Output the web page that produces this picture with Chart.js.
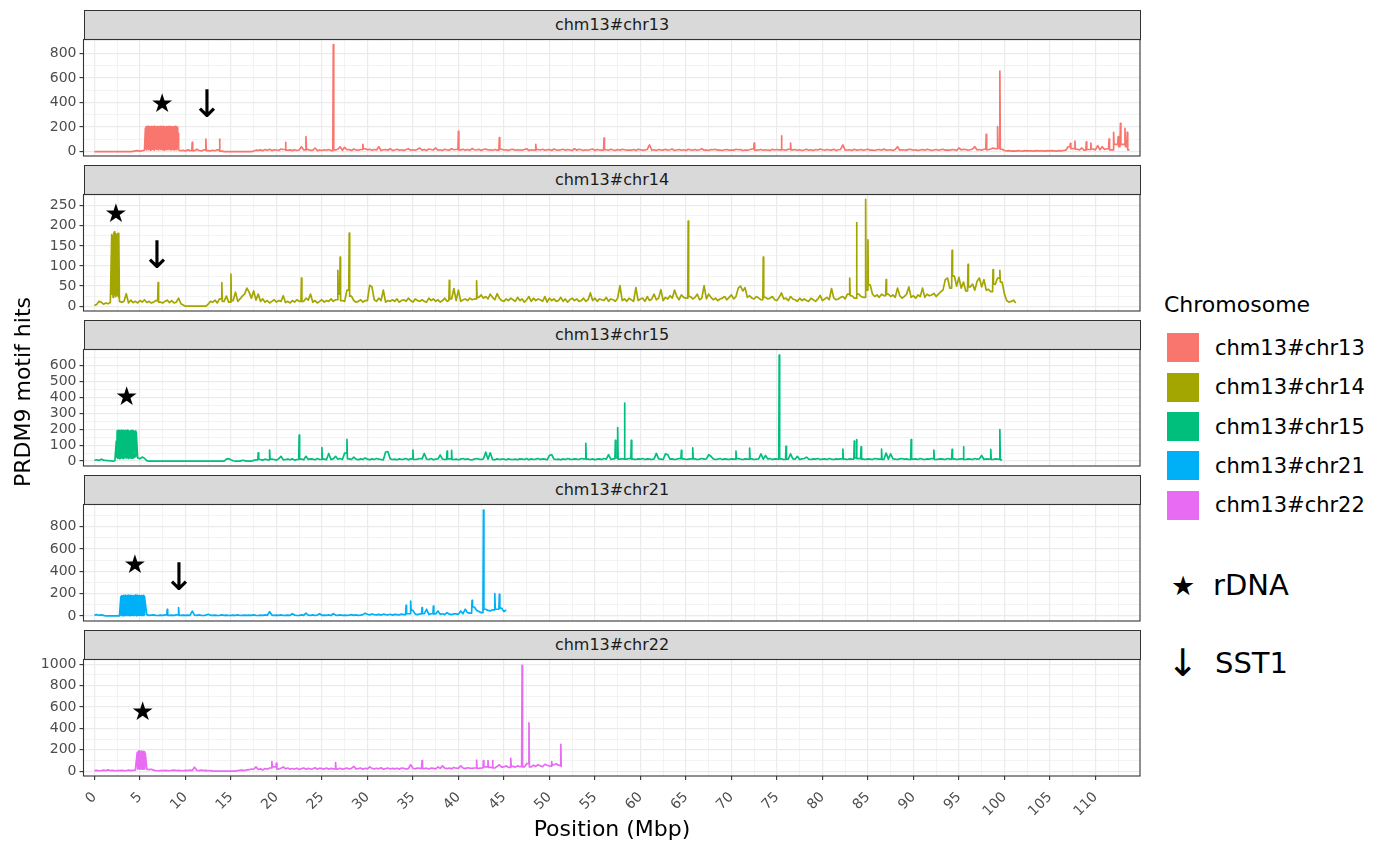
<!DOCTYPE html>
<html><head><meta charset="utf-8">
<script src="https://cdn.jsdelivr.net/npm/chart.js@4.4.1/dist/chart.umd.min.js"></script>
<style>
body{margin:0;background:#fff;}
#fig{position:relative;width:1384px;height:847px;overflow:hidden;font-family:"DejaVu Sans",sans-serif;background:#fff;}
.strip{position:absolute;left:83.5px;width:1057px;height:30px;box-sizing:border-box;border:1px solid #333;background:#d9d9d9;color:#1a1a1a;font-size:16px;line-height:28px;text-align:center;}
.pc{position:absolute;left:0;}
.txt{position:absolute;white-space:nowrap;color:#000;}
.key{position:absolute;left:1167px;width:32px;height:29px;}
</style>
</head><body>
<div id="fig"></div>
<script>
// ---------------- data ----------------
const categories = ['chm13#chr13','chm13#chr14','chm13#chr15','chm13#chr21','chm13#chr22'];
const binStep = 0.25;   // Mbp between values in the *Hits arrays
const rdnaStep = 0.05;  // Mbp between values in the *Rdna arrays
const peakHalf = 0.05;  // Mbp between a peak value and its side values in the *Peaks arrays

const chr13Hits = [
0,0,0,0, 0,0,0,0, 0,0,0,0, 0,0,0,0, 0,3,6,9, 4,8,12,198, 22,205,18,201, 26,207,15,199, 24,204,19,202, 20,150,8,12,
6,15,9,76, 8,20,10,6, 14,103,9,7, 12,8,15,103, 4,0,0,0, 0,0,0,0, 0,0,0,0, 0,0,5,12, 10,15,8,18, 12,20,9,16,
14,10,22,18, 75,12,15,9, 16,10,14,40, 14,122,18,10, 12,30,9,14, 10,16,12,18, 9,870,14,20, 40,12,35,16, 18,10,22,14, 12,18,60,24,
15,20,12,18, 14,40,10,16, 18,12,25,10, 14,20,12,16, 10,18,24,12, 16,12,20,30, 12,18,10,22, 18,14,30,12, 16,10,20,14, 12,24,16,18,
165,14,20,12, 18,12,25,16, 14,20,10,18, 22,14,16,12, 18,12,115,20, 14,16,10,18, 20,12,16,14, 12,18,24,10, 16,12,60,18, 14,20,12,16,
18,10,22,14, 12,16,20,12, 18,14,10,24, 12,20,16,10, 16,12,18,22, 10,18,14,12, 110,16,12,20, 14,10,18,12, 20,16,12,14, 12,18,10,20,
16,12,14,18, 55,12,16,10, 18,14,12,20, 12,16,22,10, 14,18,12,16, 10,20,14,12, 18,12,16,24, 12,14,10,18, 16,20,12,14, 10,16,18,12,
14,12,20,16, 18,10,14,12, 16,22,70,12, 14,18,12,16, 12,10,20,14, 18,14,128,16, 12,20,70,14, 18,12,16,10, 14,20,12,16, 10,18,14,22,
16,12,18,14, 12,20,10,16, 18,55,12,14, 16,10,20,12, 14,18,12,16, 20,12,14,10, 16,18,12,22, 12,14,16,10, 18,40,12,16, 14,12,20,18,
12,16,10,14, 18,12,20,16, 10,14,18,12, 16,20,12,14, 12,18,16,10, 30,14,20,18, 12,16,22,41, 14,18,12,20, 141,16,22,30, 24,203,656,20,
10,6,8,5, 7,5,9,6, 5,8,6,7, 6,5,8,6, 7,6,5,8, 6,9,7,5, 8,6,10,12, 40,68,25,87, 20,15,30,12, 81,18,70,22,
14,50,16,40, 18,24,103,15, 158,60,122,231, 60,190,158,15
];
const chr13RdnaStart = 5.6;
const chr13Rdna = [
190,22,205,15,200,28,207,18,198,25, 204,12,201,30,206,20,199,16,203,24,
208,14,200,27,202,19,205,22,197,15, 204,26,201,18,206,21,203,17,199,25,
207,13,202,29,198,20,205,16,200,23, 204,19,196,27,206,14,201,22,203,18,
199,26,205,15,200,24,207,20,202,17, 198,150,148,20,12
];
// [position, left side, peak, right side]
const chr13Peaks = [
[10.75,10,76,8],[12.25,14,103,9],[13.75,15,103,4],[21.0,18,75,12],[23.25,14,122,18],[26.25,9,870,14],[29.5,18,60,24],
[40.0,18,165,14],[44.5,12,115,20],[48.5,12,60,18],[56.0,12,110,16],[72.5,22,70,12],[75.5,14,128,16],[76.5,20,70,14],
[98.0,20,141,16],[99.25,24,203,30],[99.5,30,656,20],[107.25,40,68,25],[107.75,25,87,20],[109.0,12,81,18],[109.5,18,70,22],
[111.5,24,103,15],[112.0,15,158,60],[112.5,60,122,40],[112.75,40,231,60],[113.25,60,190,40],[113.5,40,158,15]
];

const chr14Hits = [
2,4,12,10, 5,8,6,9, 0,0,0,12, 10,12,31,8, 15,9,12,8, 14,10,16,9, 12,8,10,14, 59,10,8,12, 15,9,14,8, 10,20,6,3,
0,0,0,0, 0,0,0,0, 0,0,5,12, 10,15,8,18, 59,12,25,10, 80,14,35,12, 18,25,30,45, 35,20,38,15, 30,12,18,10, 14,8,12,16,
10,14,12,26, 9,12,8,14, 10,16,12,70, 12,20,15,30, 10,14,8,12, 16,10,14,12, 18,12,16,89, 122,14,12,40, 182,25,14,10, 12,16,10,14,
14,52,48,16, 12,20,14,40, 10,14,12,16, 12,18,10,14, 16,12,20,14, 10,18,14,12, 16,12,10,20, 14,18,12,16, 10,14,20,12, 64,18,44,14,
40,12,16,18, 14,20,16,18, 63,22,28,20, 24,18,30,22, 16,31,20,14, 12,18,14,20, 16,12,22,14, 18,10,16,24, 12,20,14,18, 16,12,24,10,
20,14,18,12, 14,22,12,18, 10,16,20,14, 18,12,14,20, 12,16,33,14, 20,12,18,16, 14,22,12,18, 16,12,20,51, 14,18,12,20, 16,12,46,14,
18,20,12,24, 14,18,30,16, 20,41,14,22, 18,26,20,40, 24,16,28,22, 20,212,24,18, 22,30,16,20, 51,18,30,22, 16,20,14,18, 20,24,16,22,
28,18,24,45, 50,38,46,22, 26,20,18,24, 20,16,122,22, 18,20,24,16, 14,22,33,18, 20,14,24,18, 16,12,20,14, 18,14,12,20, 16,12,18,27,
14,18,22,16, 44,20,16,18, 22,24,18,30, 70,26,20,208, 30,24,22,266, 165,53,30,24, 28,22,30,26, 66,30,24,28, 22,45,26,20, 24,30,48,22,
26,20,28,24, 45,22,30,26, 28,32,24,30, 36,40,66,70, 45,139,75,50, 72,45,60,38, 104,48,55,40, 62,70,48,66, 40,42,36,91, 55,70,89,60,
30,14,10,12, 15,8
];
const chr14RdnaStart = 1.9;
const chr14Rdna = [178,30,175,22,182,25,185,28,180,24,176,30,178,26,181,22,176];
const chr14Peaks = [
[7.0,14,59,10],[14.0,18,59,12],[15.0,10,80,14],[22.75,12,70,12],[26.75,16,89,30],[27.0,30,122,14],[28.0,40,182,25],
[39.0,14,64,18],[42.0,18,63,22],[65.25,20,212,24],[73.5,16,122,22],[83.0,30,70,26],[83.75,20,208,30],[84.75,22,266,40],
[85.0,40,165,53],[87.0,26,66,30],[94.25,45,139,75],[96.0,38,104,48],[98.75,36,91,55],[99.5,70,89,60]
];

const chr15Hits = [
5,8,4,12, 6,4,3,2, 0,2,0,0, 0,0,0,0, 0,0,0,20, 15,25,18,3, 0,0,0,0, 0,0,0,0, 0,0,0,0, 0,0,0,0,
0,0,0,0, 0,0,0,0, 0,0,0,0, 0,0,0,0, 0,0,12,15, 8,2,0,0, 0,5,3,0, 0,0,4,8, 52,10,6,12, 8,69,12,10,
6,14,30,8, 10,12,8,14, 6,10,163,12, 8,30,10,14, 12,8,16,10, 84,12,9,48, 10,14,30,12, 16,10,50,136, 14,10,25,12, 8,14,10,20,
12,8,14,10, 16,12,10,8, 57,60,14,10, 12,8,14,10, 12,16,8,14, 69,10,12,16, 14,48,12,10, 16,8,12,14, 38,12,10,63, 14,67,10,12,
8,12,16,10, 14,10,8,12, 16,12,10,14, 56,12,52,10, 8,14,10,12, 12,8,14,10, 10,12,8,14, 12,10,16,8, 14,10,12,16, 10,14,12,8,
36,40,12,10, 12,8,14,10, 16,12,10,14, 12,10,16,14, 111,12,10,14, 8,12,14,10, 16,12,40,10, 14,131,211,12, 14,365,12,16, 131,12,10,14,
12,16,10,14, 12,10,14,48, 14,12,10,45, 40,12,14,10, 12,16,67,14, 10,12,14,83, 14,10,12,16, 12,14,40,30, 14,10,12,16, 10,14,12,10,
14,12,63,16, 12,10,14,12, 81,14,10,12, 14,45,12,35, 12,16,10,14, 12,667,14,10, 93,12,45,14, 12,30,10,14, 16,25,12,10, 14,12,16,10,
12,14,10,16, 12,10,14,12, 14,76,12,10, 14,12,125,135, 16,90,12,10, 14,12,10,16, 14,12,76,10, 50,12,45,14, 12,10,14,16, 12,14,10,135,
12,14,10,16, 12,10,14,12, 16,69,10,12, 14,12,10,16, 12,73,14,10, 12,14,90,10, 14,12,10,16, 12,14,35,10, 14,12,73,10, 14,12,198,8
];
const chr15RdnaStart = 2.4;
const chr15Rdna = [
125,25,190,18,194,22,188,15,192,28, 186,20,195,24,190,17,193,26,189,21,
191,30,187,19,194,23,188,16,192,27, 185,22,190,18,193,25,189,20,191,24,
186,29,188,30,180
];
const chr15Peaks = [
[18.0,8,52,10],[19.25,8,69,12],[22.5,10,163,12],[25.0,10,84,12],[27.75,50,136,14],[35.0,14,69,10],[38.75,10,63,14],
[39.25,14,67,10],[54.0,14,111,12],[57.25,14,131,20],[57.5,20,211,12],[58.25,14,365,12],[59.0,16,131,12],[64.5,16,67,14],
[65.75,14,83,14],[70.5,12,63,16],[72.0,12,81,14],[75.25,12,667,14],[76.0,10,93,12],[82.25,14,76,12],[83.5,12,125,20],
[83.75,20,135,16],[84.25,16,90,12],[86.5,12,76,10],[89.75,10,135,12],[92.25,16,69,10],[94.25,12,73,14],[95.5,14,90,10],
[98.5,12,73,10],[99.5,12,198,8]
];

const chr21Hits = [
8,12,6,10, 5,0,0,0, 0,0,0,0, 0,0,0,0, 0,0,0,0, 0,0,8,12, 5,8,10,6, 4,8,6,10, 60,6,8,5, 10,74,6,8,
5,8,6,44, 8,5,10,6, 4,8,15,6, 5,8,4,6, 10,5,8,4, 6,8,5,10, 4,6,8,5, 8,5,10,6, 4,8,6,10, 5,38,8,6,
8,5,10,4, 6,8,5,20, 8,4,6,10, 5,25,8,6, 10,4,8,20, 6,8,5,10, 4,20,8,6, 10,5,8,6, 8,12,5,10, 6,8,12,25,
15,10,18,12, 10,14,8,16, 12,10,15,8, 14,12,10,16, 12,95,20,134, 50,16,12,18, 74,20,60,14, 20,89,18,45, 14,20,12,30, 16,12,20,18,
14,45,20,60, 30,25,139,80, 50,40,30,948, 60,50,45,55, 199,60,193,70, 40,55
];
const chr21RdnaStart = 2.9;
const chr21Rdna = [
170,5,182,8,178,3,185,10,180,6, 184,4,176,9,183,5,181,7,186,3,
179,8,184,6,182,10,175,4,183,7, 180,5,186,9,178,3,184,6,181,8,
179,4,185,10,177,6,183,5,180,7, 184,9,175
];
const chr21Peaks = [
[8.0,10,60,6],[9.25,10,74,6],[34.25,12,95,20],[34.75,20,134,50],[36.0,18,74,20],[37.25,20,89,18],[41.5,25,139,80],
[42.75,30,948,60],[44.0,55,199,60],[44.5,60,193,70]
];

const chr22Hits = [
5,8,4,6, 10,5,12,6, 8,4,6,5, 8,6,4,10, 5,8,10,12, 0,0,0,20, 15,18,10,6, 4,6,5,8, 6,4,8,10, 5,8,6,4,
8,5,10,6, 38,8,5,10, 6,8,4,5, 0,0,0,0, 0,0,0,0, 0,0,0,5, 8,10,6,12, 14,20,18,40, 16,22,12,25, 18,30,90,40,
75,20,28,40, 22,30,18,25, 20,28,16,24, 30,18,26,20, 22,32,18,28, 24,20,30,18, 26,22,80,20, 28,18,24,30, 20,26,45,22, 24,30,18,28,
22,40,26,20, 28,22,32,18, 24,30,20,26, 22,28,18,30, 26,20,24,60, 28,22,30,26, 100,24,28,20, 30,26,22,40, 26,50,28,24, 30,22,35,28,
26,50,30,24, 32,28,26,30, 103,26,30,100, 40,100,35,100, 30,45,60,38, 40,50,35,120, 45,38,50,42, 990,40,70,453, 40,55,45,60, 50,42,65,55,
48,90,60,70, 55,250
];
const chr22RdnaStart = 4.7;
const chr22Rdna = [175,20,180,25,190,18,185,22,178,24,188,19,182,26,186,21,180,172,165];
const chr22Peaks = [
[19.5,30,90,40],[20.0,40,75,20],[26.5,22,80,20],[36.0,26,100,24],[42.0,30,103,26],[42.75,30,100,40],[43.25,40,100,35],
[43.75,35,100,30],[45.75,35,120,45],[47.0,42,990,40],[47.75,70,453,40],[50.25,48,90,60],[51.25,55,250,40]
];

// annotation positions [Mbp, hits]
const rdnaMarks = [[7.45,380],[2.36,227],[3.54,396],[4.45,444],[5.3,541]];
const sst1Marks = [[12.4,365],[6.9,120],null,[9.3,320],null];

// axis limits and tick labels
const xMin = -1.2, xMax = 114.9;
const xTicks = [0,5,10,15,20,25,30,35,40,45,50,55,60,65,70,75,80,85,90,95,100,105,110];
const yMins = [-35,-12,-31,-45,-45];
const yMaxs = [912,278,702,997,1045];
const yTicks = [
  [0,200,400,600,800],
  [0,50,100,150,200,250],
  [0,100,200,300,400,500,600],
  [0,200,400,600,800],
  [0,200,400,600,800,1000]
];
const colors = ['#F8766D','#A3A500','#00BF7D','#00B0F6','#E76BF3'];

// ---------------- build ----------------
const hitsList = [chr13Hits,chr14Hits,chr15Hits,chr21Hits,chr22Hits];
const rdnaList = [chr13Rdna,chr14Rdna,chr15Rdna,chr21Rdna,chr22Rdna];
const rdnaStarts = [chr13RdnaStart,chr14RdnaStart,chr15RdnaStart,chr21RdnaStart,chr22RdnaStart];
const peaksList = [chr13Peaks,chr14Peaks,chr15Peaks,chr21Peaks,chr22Peaks];

function buildPoints(hits, rdna, rStart, peaks){
  const eps = 1e-6;
  const ranges = [[rStart, rStart + (rdna.length-1)*rdnaStep]];
  peaks.forEach(p => ranges.push([p[0]-peakHalf, p[0]+peakHalf]));
  const inside = x => ranges.some(r => x >= r[0]-eps && x <= r[1]+eps);
  const pts = [];
  hits.forEach((v,i)=>{ const x = i*binStep; if (!inside(x)) pts.push({x:x, y:v}); });
  rdna.forEach((v,i)=> pts.push({x: +(rStart + i*rdnaStep).toFixed(3), y:v}));
  peaks.forEach(p => {
    pts.push({x: +(p[0]-peakHalf).toFixed(3), y: p[1]});
    pts.push({x: p[0], y: p[2]});
    pts.push({x: +(p[0]+peakHalf).toFixed(3), y: p[3]});
  });
  pts.sort((a,b)=>a.x-b.x);
  return pts;
}

const fig = document.getElementById('fig');
const FONT = '"DejaVu Sans", sans-serif';

function addText(txt, left, top, size, extra){
  const d = document.createElement('div');
  d.className = 'txt';
  d.textContent = txt;
  d.style.left = left + 'px';
  d.style.top = top + 'px';
  d.style.fontSize = size + 'px';
  d.style.lineHeight = size + 'px';
  if (extra) Object.assign(d.style, extra);
  fig.appendChild(d);
  return d;
}

const xMajorSet = new Set(xTicks);
const xGrid = [];
for (let k = 0; k < xTicks.length; k++){ xGrid.push(xTicks[k]); if (xTicks[k] + 2.5 < xMax) xGrid.push(xTicks[k] + 2.5); }

const PERIOD = 155;
categories.forEach((cat, i) => {
  const stripTop = 9.5 + PERIOD*i;
  const s = document.createElement('div');
  s.className = 'strip';
  s.style.top = stripTop + 'px';
  s.textContent = cat;
  fig.appendChild(s);

  const isLast = i === categories.length - 1;
  const plotTop = stripTop + 30;
  const cTop = Math.floor(plotTop) - 1;
  const padTop = plotTop - cTop;
  const plotH = 116.5;
  const xH = isLast ? 60 : 0;
  const padBottom = isLast ? 0 : 2;
  const cH = Math.round(padTop + plotH + xH + padBottom);
  const cW = 1141;

  const wrap = document.createElement('div');
  wrap.className = 'pc';
  wrap.style.top = cTop + 'px';
  wrap.style.width = cW + 'px';
  wrap.style.height = cH + 'px';
  const cv = document.createElement('canvas');
  cv.width = cW; cv.height = cH;
  cv.style.width = cW + 'px'; cv.style.height = cH + 'px';
  wrap.appendChild(cv);
  fig.appendChild(wrap);

  const yMaj = yTicks[i];
  const ystep = yMaj[1]-yMaj[0];
  const yMajSet = new Set(yMaj);
  const yGrid = [];
  for (let v = 0; v < yMaxs[i]; v += ystep/2) yGrid.push(v);

  const marks = [];
  if (rdnaMarks[i]) marks.push({x:rdnaMarks[i][0], y:rdnaMarks[i][1], g:'\u2605', font:'26px ' + FONT});
  if (sst1Marks[i]) marks.push({x:sst1Marks[i][0], y:sst1Marks[i][1], g:'\u2193', font:'38px ' + FONT});

  const panelPlugin = {
    id: 'panel' + i,
    afterDatasetsDraw(chart){
      const {ctx, scales} = chart;
      ctx.save();
      ctx.fillStyle = '#000';
      ctx.textAlign = 'center';
      ctx.textBaseline = 'middle';
      marks.forEach(m => {
        ctx.font = m.font;
        ctx.fillText(m.g, scales.x.getPixelForValue(m.x), scales.y.getPixelForValue(m.y));
      });
      ctx.restore();
    },
    afterDraw(chart){
      const a = chart.chartArea, ctx = chart.ctx;
      ctx.save();
      ctx.strokeStyle = '#333333';
      ctx.lineWidth = 1.1;
      ctx.strokeRect(a.left, a.top, a.right - a.left, a.bottom - a.top);
      ctx.restore();
    }
  };

  const gridW = (isMaj) => isMaj ? 1.2 : 0.6;

  new Chart(cv, {
    type: 'line',
    data: { datasets: [{
      label: cat,
      data: buildPoints(hitsList[i], rdnaList[i], rdnaStarts[i], peaksList[i]),
      borderColor: colors[i],
      backgroundColor: colors[i],
      borderWidth: 1.7,
      pointRadius: 0,
      tension: 0,
      fill: false,
      borderJoinStyle: 'round'
    }]},
    options: {
      responsive: false,
      maintainAspectRatio: false,
      animation: false,
      events: [],
      layout: { padding: { top: padTop, bottom: padBottom, left: 0, right: 1 } },
      plugins: { legend: { display: false }, tooltip: { enabled: false } },
      scales: {
        x: {
          type: 'linear', min: xMin, max: xMax,
          afterBuildTicks: ax => { ax.ticks = xGrid.map(v => ({value: v})); },
          afterFit: ax => { ax.height = xH; ax.paddingLeft = 0; ax.paddingRight = 0; },
          border: { display: false },
          grid: {
            color: '#ebebeb',
            lineWidth: c => gridW(c.tick && xMajorSet.has(c.tick.value)),
            drawTicks: isLast,
            tickLength: 4,
            tickColor: c => (c.tick && xMajorSet.has(c.tick.value)) ? '#333333' : 'rgba(0,0,0,0)',
            tickWidth: 1.1
          },
          ticks: {
            display: isLast, autoSkip: false, maxRotation: 45, minRotation: 45,
            color: '#4d4d4d', font: { family: FONT, size: 14 }, padding: 9,
            callback: v => xMajorSet.has(v) ? String(v) : ''
          }
        },
        y: {
          type: 'linear', min: yMins[i], max: yMaxs[i],
          afterBuildTicks: ax => { ax.ticks = yGrid.map(v => ({value: v})); },
          afterFit: ax => { ax.width = 83.5; ax.paddingTop = 0; ax.paddingBottom = 0; },
          border: { display: false },
          grid: {
            color: '#ebebeb',
            lineWidth: c => gridW(c.tick && yMajSet.has(c.tick.value)),
            drawTicks: true,
            tickLength: 4,
            tickColor: c => (c.tick && yMajSet.has(c.tick.value)) ? '#333333' : 'rgba(0,0,0,0)',
            tickWidth: 1.1
          },
          ticks: {
            autoSkip: false, color: '#4d4d4d', font: { family: FONT, size: 14 }, padding: 3,
            callback: v => yMajSet.has(v) ? String(v) : ''
          }
        }
      }
    },
    plugins: [panelPlugin]
  });
});

// axis titles
addText('Position (Mbp)', 612, 818, 22, {transform:'translateX(-50%)'});
addText('PRDM9 motif hits', 23, 392, 22, {transform:'translate(-50%,-50%) rotate(-90deg)'});

// legend
addText('Chromosome', 1164, 294, 22);
categories.forEach((cat, k) => {
  const key = document.createElement('div');
  key.className = 'key';
  key.style.top = (333.3 + 39.3*k) + 'px';
  key.style.background = colors[k];
  fig.appendChild(key);
  addText(cat, 1215, 338 + 39.3*k, 21);
});
addText('\u2605', 1183, 585, 27, {transform:'translate(-50%,-50%)'});
addText('rDNA', 1213, 571, 29);
addText('\u2193', 1183, 663, 38, {transform:'translate(-50%,-50%)'});
addText('SST1', 1215, 649, 29);
</script>
</body></html>
